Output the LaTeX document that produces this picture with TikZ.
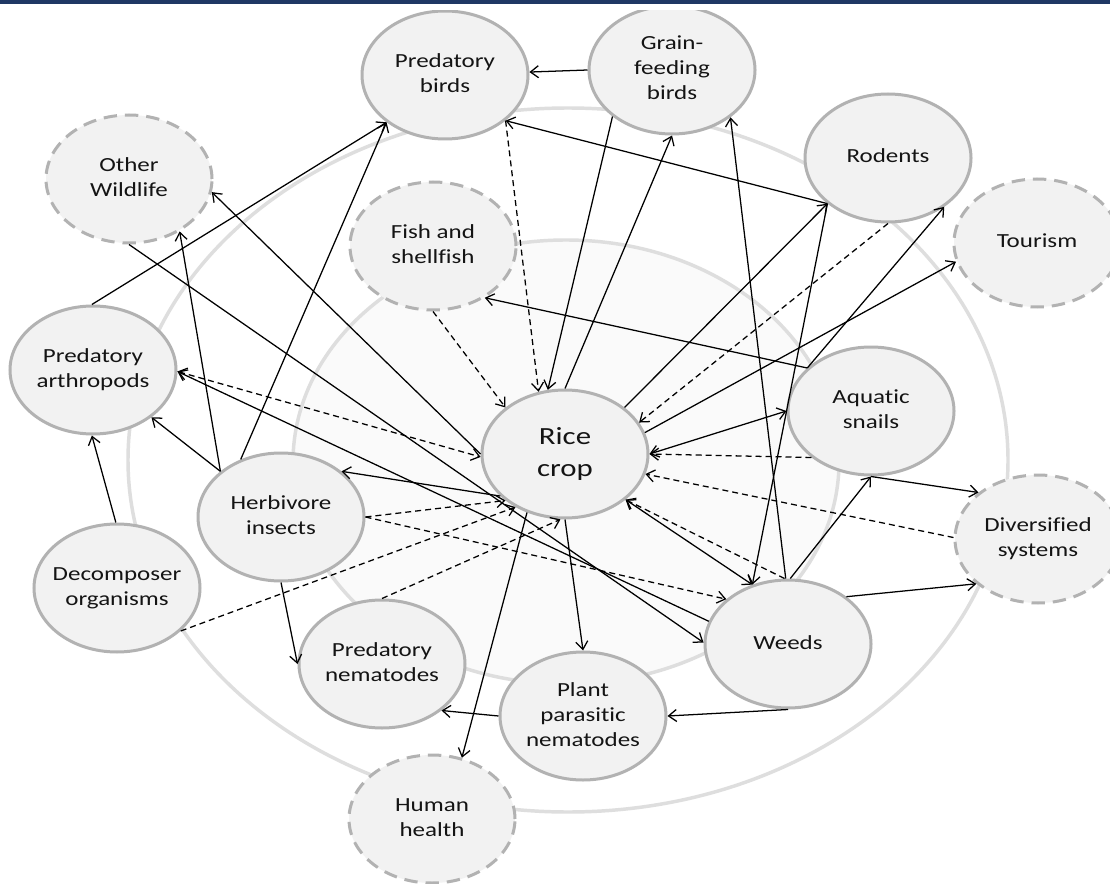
\documentclass[tikz,border=0pt]{standalone}
\usepackage{fontspec}
\setmainfont{Carlito}[Ligatures=NoCommon]
\usepackage{graphicx}
\usetikzlibrary{shapes.geometric,arrows.meta}
\definecolor{navy}{RGB}{31,56,100}
\definecolor{ndgray}{RGB}{178,178,178}
\definecolor{ndfill}{RGB}{242,242,242}
\definecolor{ringc}{RGB}{222,222,222}
\definecolor{innerc}{RGB}{250,250,250}
\definecolor{txt}{RGB}{20,20,20}
\newcommand{\lbl}[1]{\makebox[0pt]{\scalebox{1.25}[1]{\begin{tabular}{@{}c@{}}#1\end{tabular}}}}
\newcommand{\nfont}{\fontsize{15pt}{18.75pt}\selectfont}
\newcommand{\rfont}{\fontsize{18.5pt}{24pt}\selectfont}
\tikzset{
  nd/.style={ellipse, draw=ndgray, line width=2.25pt, fill=ndfill, minimum width=124.5pt,
    minimum height=96pt, inner sep=0pt, text=txt, font=\nfont},
  ndd/.style={nd, dash pattern=on 10pt off 6pt},
  ring/.style={draw=ringc, line width=2.6pt},
  ed/.style={line width=0.95pt, draw=black, -{Straight Barb[length=6pt,width=9pt]}},
  edd/.style={ed, dash pattern=on 4.5pt off 3pt},
  bi/.style={{Straight Barb[length=6pt,width=9pt]}-{Straight Barb[length=6pt,width=9pt]}},
}
\begin{document}
\begin{tikzpicture}[x=0.75pt,y=-0.75pt]
\useasboundingbox (0,0) rectangle (1110,884);
\fill[white] (0,0) rectangle (1110,884);
\fill[navy] (0,0) rectangle (1110,4);
\begin{scope}
\clip (0,11) rectangle (1110,884);
% background rings
\draw[ring] (568,460) ellipse [x radius=440, y radius=352];
\draw[ring, fill=innerc] (566,462) ellipse [x radius=273, y radius=222];
% nodes
\node[nd]  (pb)    at (445,75)  {\lbl{Predatory\\birds}};
\node[nd]  (gb)    at (672,70)  {\lbl{Grain-\\feeding\\birds}};
\node[ndd] (ow)    at (129,179) {\lbl{Other\\Wildlife}};
\node[nd]  (ro)    at (888,158) {\lbl{Rodents}};
\node[ndd] (tour)  at (1037,243) {\lbl{Tourism}};
\node[ndd] (fs)    at (433,246) {\lbl{Fish and\\shellfish}};
\node[nd]  (pa)    at (93,370)  {\lbl{Predatory\\arthropods}};
\node[nd,font=\rfont] (rc) at (565,454) {\lbl{Rice\\crop}};
\node[nd]  (snail) at (871,411) {\lbl{Aquatic\\snails}};
\node[nd]  (hi)    at (281,517) {\lbl{Herbivore\\insects}};
\node[ndd] (ds)    at (1038,539) {\lbl{Diversified\\systems}};
\node[nd]  (de)    at (117,588) {\lbl{Decomposer\\organisms}};
\node[nd]  (we)    at (788,644) {\lbl{Weeds}};
\node[nd]  (pn)    at (382,664) {\lbl{Predatory\\nematodes}};
\node[nd]  (pp)    at (583,716) {\lbl{Plant\\parasitic\\nematodes}};
\node[ndd] (hh)    at (432,819) {\lbl{Human\\health}};
% connectors
\draw[ed] (gb.180) -- (pb.2);
\draw[ed] (pa.91) -- (pb.219);
\draw[ed] (hi.125) -- (pb.219);
\draw[ed] (hi.143) -- (ow.314);
\draw[ed] (hi.143) -- (pa.321);
\draw[ed] (de.91) -- (pa.269);
\draw[edd] (de.326) -- (rc.227);
\draw[edd] (hi.0) -- (rc.218);
\draw[ed] (rc.213) -- (hi.37);
\draw[edd] (pn.90) -- (rc.266);
\draw[edd,bi] (pa.359) -- (rc.182);
\draw[ed] (we.164) -- (pa.359);
\draw[ed] (rc.180) -- (ow.351);
\draw[ed] (ow.270) -- (we.179);
\draw[edd] (hi.0) -- (we.144);
\draw[ed,bi] (rc.323) -- (we.121);
\draw[edd] (we.93) -- (rc.323);
\draw[ed] (we.92) -- (gb.321);
\draw[ed] (we.88) -- (snail.270);
\draw[ed] (snail.270) -- (ds.142);
\draw[ed] (we.39) -- (ds.216);
\draw[edd] (ds.179) -- (rc.346);
\draw[edd] (snail.218) -- (rc.0);
\draw[ed,bi] (rc.0) -- (snail.180);
\draw[ed] (rc.15) -- (tour.193);
\draw[edd] (ro.270) -- (rc.23);
\draw[ed] (rc.38) -- (ro.217);
\draw[ed] (ro.217) -- (pb.323);
\draw[ed] (ro.217) -- (we.121);
\draw[ed] (snail.146) -- (ro.319);
\draw[ed] (snail.146) -- (fs.315);
\draw[edd] (pb.323) -- (rc.113);
\draw[ed] (gb.218) -- (rc.105);
\draw[ed] (rc.90) -- (gb.270);
\draw[edd] (fs.270) -- (rc.142);
\draw[ed] (rc.237) -- (hh.64);
\draw[ed] (rc.270) -- (pp.90);
\draw[ed] (hi.270) -- (pn.180);
\draw[ed] (pp.180) -- (pn.322);
\draw[ed] (we.270) -- (pp.0);
\end{scope}
\end{tikzpicture}
\end{document}
